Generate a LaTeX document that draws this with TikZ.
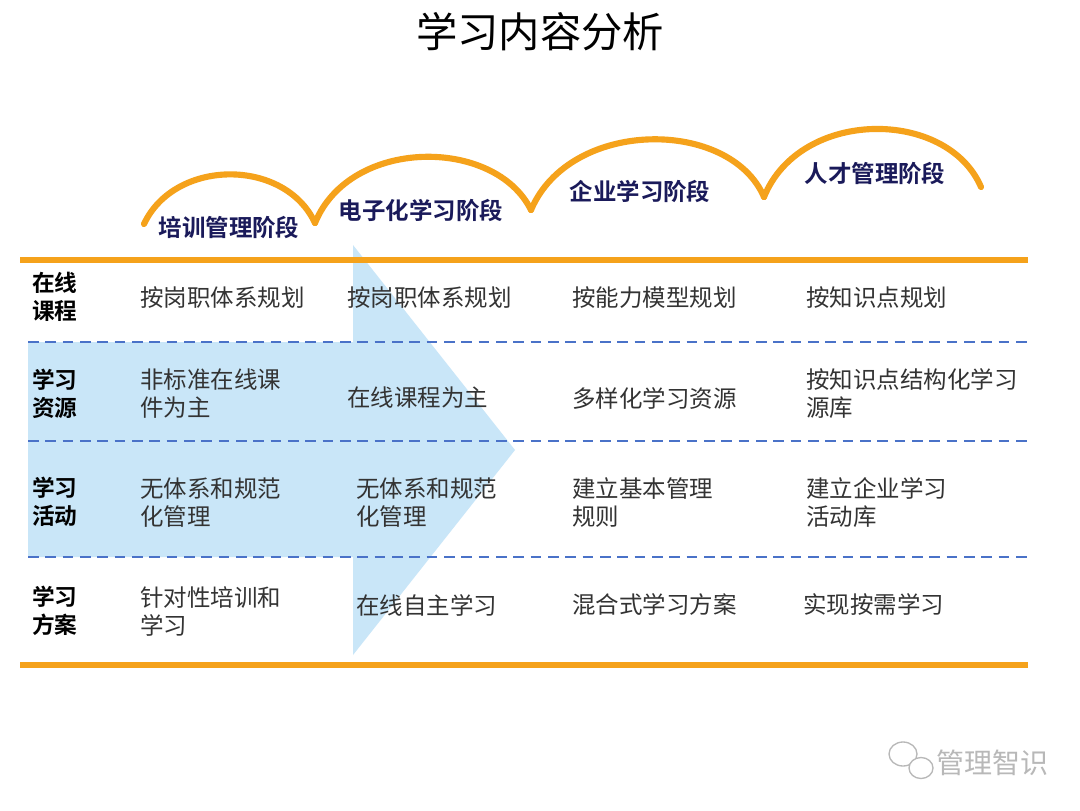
\documentclass[tikz,border=0pt]{standalone}
\usepackage{fontspec}
\setmainfont{Noto Sans CJK SC}[BoldFont={Noto Sans CJK SC Bold}]
\definecolor{orng}{HTML}{F5A21B}
\definecolor{dashblue}{HTML}{4A72C8}
\definecolor{arrowblue}{HTML}{C9E6F8}
\definecolor{navy}{HTML}{1A1A5A}
\definecolor{celltext}{HTML}{333333}
\definecolor{wmgray}{HTML}{B8B8B8}
\begin{document}
\begin{tikzpicture}[x=0.75pt,y=-0.75pt,
  orangeline/.style={draw=orng,line width=4.6pt},
  humpline/.style={draw=orng,line width=4.6pt,line cap=round},
  dashrow/.style={draw=dashblue,line width=1.6pt,dash pattern=on 8pt off 5pt},
  cell/.style={anchor=west,inner sep=0pt,text=celltext,font=\fontsize{17.6}{21}\selectfont,align=left},
  rowlabel/.style={anchor=west,inner sep=0pt,text=black,font=\bfseries\fontsize{17}{21}\selectfont,align=left},
  stage/.style={inner sep=0pt,text=navy,font=\bfseries\fontsize{17.6}{21}\selectfont},
  title/.style={inner sep=0pt,font=\fontsize{31}{36}\selectfont}]
\useasboundingbox[fill=white] (0,0) rectangle (1080,810);
% arrow
\fill[arrowblue] (28,342) -- (353,342) -- (353,245) -- (515,450) -- (353,655) -- (353,557) -- (28,557) -- cycle;
% title
\node[title] (t) at (540,32) {学习内容分析};
% humps
\coordinate (h0) at (144,224);
\coordinate (h1) at (315,223);
\coordinate (h2) at (531,210);
\coordinate (h3) at (764,197);
\coordinate (h4) at (981,187);
\draw[humpline] (h0) .. controls (175,158) and (285,158) .. (h1);
\draw[humpline] (h1) .. controls (350,137) and (495,137) .. (h2);
\draw[humpline] (h2) .. controls (570,118) and (730,118) .. (h3);
\draw[humpline] (h3) .. controls (800,108) and (947,108) .. (h4);
% stage labels
\node[stage] (s1) at (229,227) {培训管理阶段};
\node[stage] (s2) at (421,210) {电子化学习阶段};
\node[stage] (s3) at (640,191) {企业学习阶段};
\node[stage] (s4) at (875,173) {人才管理阶段};
% lines
\draw[orangeline] (20,260) -- (1028,260);
\draw[orangeline] (20,665) -- (1028,665);
\draw[dashrow] (28,342) -- (1028,342);
\draw[dashrow] (28,441) -- (1028,441);
\draw[dashrow] (28,557) -- (1028,557);
% row labels
\node[rowlabel] (r1) at (32,297) {在线\\课程};
\node[rowlabel] (r2) at (32,394) {学习\\资源};
\node[rowlabel] (r3) at (32,502) {学习\\活动};
\node[rowlabel] (r4) at (32,611) {学习\\方案};
% row 1
\node[cell] (c11) at (140,298) {按岗职体系规划};
\node[cell] (c12) at (347,298) {按岗职体系规划};
\node[cell] (c13) at (572,298) {按能力模型规划};
\node[cell] (c14) at (806,298) {按知识点规划};
% row 2
\node[cell] (c21) at (140,394) {非标准在线课\\件为主};
\node[cell] (c22) at (347,398) {在线课程为主};
\node[cell] (c23) at (572,398) {多样化学习资源};
\node[cell] (c24) at (806,394) {按知识点结构化学习\\源库};
% row 3
\node[cell] (c31) at (140,503) {无体系和规范\\化管理};
\node[cell] (c32) at (356,503) {无体系和规范\\化管理};
\node[cell] (c33) at (572,503) {建立基本管理\\规则};
\node[cell] (c34) at (806,503) {建立企业学习\\活动库};
% row 4
\node[cell] (c41) at (140,611) {针对性培训和\\学习};
\node[cell] (c42) at (356,605) {在线自主学习};
\node[cell] (c43) at (572,605) {混合式学习方案};
\node[cell] (c44) at (803,605) {实现按需学习};
% watermark
\draw[wmgray,line width=1pt,fill=white] (903,754) ellipse (14 and 12);
\draw[wmgray,line width=1pt,fill=white] (921,768) ellipse (12 and 10.5);
\node[inner sep=0pt,text=wmgray,font=\fontsize{21}{24}\selectfont] (wm) at (992,763) {管理智识};
\end{tikzpicture}
\end{document}
